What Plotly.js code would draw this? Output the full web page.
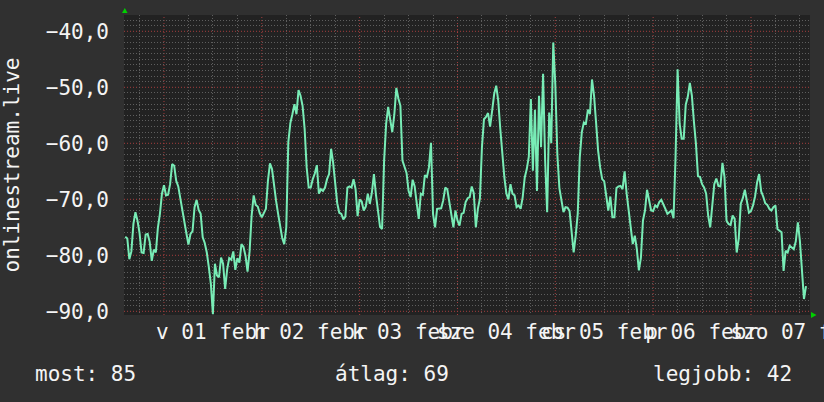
<!DOCTYPE html>
<html>
<head>
<meta charset="utf-8">
<script src="https://cdn.plot.ly/plotly-3.0.1.min.js"></script>
<style>
html,body{margin:0;padding:0;background:#303030;}
#chart{width:824px;height:402px;}
</style>
</head>
<body>
<div id="chart"></div>
<script>
// Sampling: hours relative to 01 Feb 00:00, one sample every 30 minutes
const startHour = -9.5;
const stepHours = 0.5;

// Signal level (onlinestream.live)
const values = [
-76.7,-77.0,-80.7,-79.3,-74.4,-72.3,-73.8,-76.0,-79.5,-79.6,
-76.3,-76.2,-77.6,-81.0,-79.0,-79.5,-75.1,-72.6,-69.0,-67.5,
-69.3,-69.2,-67.3,-63.7,-64.0,-66.7,-67.7,-69.9,-72.3,-74.7,
-76.1,-78.1,-76.2,-75.7,-71.4,-70.1,-71.9,-72.6,-76.8,-77.8,
-79.5,-82.1,-85.1,-90.5,-81.5,-83.6,-83.9,-80.4,-81.5,-86.0,
-82.5,-80.5,-80.8,-79.3,-82.6,-80.5,-81.3,-78.0,-78.5,-80.1,
-82.9,-79.3,-72.9,-69.3,-71.0,-71.3,-72.5,-73.2,-72.4,-71.7,
-66.7,-63.6,-64.6,-68.0,-70.3,-72.6,-74.9,-76.9,-78.0,-75.0,
-59.8,-56.4,-54.8,-53.0,-54.8,-50.5,-51.5,-53.3,-57.4,-64.3,
-67.9,-67.9,-66.4,-65.4,-63.9,-69.0,-68.2,-68.5,-67.9,-66.4,
-65.5,-61.0,-63.5,-67.4,-70.7,-72.4,-72.6,-73.6,-73.1,-67.9,
-67.7,-67.9,-66.4,-68.2,-73.0,-70.0,-70.4,-72.0,-71.3,-69.0,
-70.8,-68.8,-65.5,-69.2,-72.3,-74.9,-75.3,-63.1,-56.5,-53.5,
-55.8,-58.0,-54.9,-50.1,-52.0,-53.3,-63.1,-64.1,-65.3,-68.5,
-69.6,-66.5,-67.7,-70.7,-73.5,-69.0,-69.2,-65.7,-66.0,-64.3,
-59.9,-72.6,-75.0,-71.7,-71.7,-71.6,-70.2,-67.9,-68.2,-70.5,
-72.0,-75.0,-72.0,-73.8,-74.7,-72.6,-72.4,-70.5,-69.8,-69.6,
-67.7,-68.9,-75.0,-71.7,-69.9,-60.7,-55.7,-55.3,-54.6,-57.0,
-54.2,-51.2,-49.7,-52.4,-57.4,-62.7,-66.1,-69.0,-70.0,-67.3,
-69.0,-69.3,-71.4,-71.1,-71.7,-69.6,-66.1,-64.6,-62.4,-52.1,
-64.9,-54.0,-68.5,-51.5,-60.7,-47.6,-63.0,-72.3,-54.5,-60.0,
-42.0,-49.5,-62.0,-68.0,-69.9,-72.3,-71.4,-71.5,-72.1,-76.0,
-79.5,-76.5,-72.6,-62.5,-58.0,-56.3,-56.5,-54.0,-54.8,-48.6,
-51.5,-56.3,-61.3,-64.3,-66.4,-66.8,-69.0,-72.0,-69.5,-73.2,
-73.2,-68.0,-67.7,-67.6,-68.2,-65.0,-69.0,-72.0,-74.1,-78.0,
-76.5,-78.9,-82.7,-80.4,-73.8,-72.0,-68.3,-70.2,-72.0,-72.1,
-71.1,-71.4,-70.5,-70.1,-70.8,-71.7,-72.6,-72.3,-72.0,-73.4,
-62.4,-46.8,-56.5,-59.2,-59.2,-53.1,-51.7,-49.2,-51.5,-56.1,
-60.1,-65.9,-66.0,-67.3,-67.9,-69.0,-72.9,-75.0,-71.3,-67.3,
-66.3,-67.6,-67.7,-63.5,-66.0,-73.8,-74.4,-74.6,-72.9,-73.5,
-79.5,-77.0,-70.8,-69.8,-68.3,-70.8,-72.4,-72.1,-71.1,-69.5,
-67.0,-65.5,-68.6,-69.5,-70.7,-71.0,-71.7,-72.0,-71.4,-71.1,
-75.3,-75.6,-75.9,-82.8,-79.2,-79.5,-78.3,-78.6,-78.9,-77.5,
-74.1,-77.4,-82.0,-87.8,-85.5
];

// Day labels (centred at noon of each day)
const dayLabelHours = [12, 36, 60, 84, 108, 132, 156];
const dayLabels = ["v 01 febr", "h 02 febr", "k 03 febr", "sze 04 febr", "cs 05 febr", "p 06 febr", "szo 07 febr"];

// Y tick values
const yTicks = [-90, -80, -70, -60, -50, -40];

// Summary texts under the chart
const statLabels = ["most:", "átlag:", "legjobb:"];
const statValues = ["85", "69", "42"];

const seriesName = "onlinestream.live";

const hours = values.map((_, i) => startHour + i * stepHours);

const FONT = "DejaVu Sans Mono, monospace";
const TXT = "#f4f4f4";
const RED = "#a63e3e";
const GRAY = "#5e5e5e";
const DOTS = "1px,2px";
const xRange = [-9.81, 158.48];
const yRange = [-90.66, -37.09];

// grid positions: midnights (major) and 6-hour / 1-unit minor lines
const xMajor = [];
for (let h = 0; h <= 156; h += 24) xMajor.push(h);
const xMinor = [];
for (let h = -6; h <= 156; h += 6) if (h % 24 !== 0) xMinor.push(h);
const yMinor = [];
for (let v = -90; v <= -38; v += 1) if (v % 10 !== 0) yMinor.push(v);

const trace = {
  x: hours,
  y: values,
  type: "scatter",
  mode: "lines",
  line: {color: "#78ecb6", width: 2},
  hoverinfo: "skip",
  showlegend: false
};

const statX = [-0.1327, 0.3047, 0.768];
const annotations = statLabels.map((lab, k) => ({
  xref: "paper", yref: "paper",
  x: statX[k], y: -0.197,
  xanchor: "left", yanchor: "middle",
  text: lab + " " + statValues[k],
  showarrow: false,
  font: {family: FONT, size: 21, color: TXT}
}));

const plain = {zeroline: false, showline: false, fixedrange: true, ticks: ""};

// major (red) grid lines as shapes drawn between grid and data
const gridShapes = [];
xMajor.forEach(h => gridShapes.push({
  type: "line", layer: "between", xref: "x", yref: "paper",
  x0: h, x1: h, y0: 0, y1: 1,
  line: {color: RED, width: 1, dash: DOTS}
}));
yTicks.forEach(v => gridShapes.push({
  type: "line", layer: "between", xref: "paper", yref: "y",
  x0: 0, x1: 1, y0: v, y1: v,
  line: {color: RED, width: 1, dash: DOTS}
}));

const layout = {
  width: 824, height: 402,
  margin: {l: 124, r: 14, t: 15, b: 87, pad: 0},
  paper_bgcolor: "#303030",
  plot_bgcolor: "#222222",
  separators: ", ",
  showlegend: false,
  xaxis: Object.assign({
    type: "linear", range: xRange,
    tickmode: "array", tickvals: xMinor,
    showticklabels: false,
    showgrid: true, gridcolor: GRAY, griddash: DOTS, gridwidth: 1
  }, plain),
  xaxis2: Object.assign({
    type: "linear", overlaying: "x", anchor: "y", side: "bottom",
    range: xRange,
    tickmode: "array", tickvals: dayLabelHours, ticktext: dayLabels,
    tickangle: 0, ticklabeloverflow: "allow", ticklabelstandoff: 2,
    tickfont: {family: FONT, size: 21, color: TXT},
    showgrid: false
  }, plain),
  yaxis: Object.assign({
    range: yRange,
    tickmode: "array", tickvals: yTicks,
    tickformat: ".1f", ticklabelstandoff: 14,
    tickfont: {family: FONT, size: 21, color: TXT},
    showgrid: false,
    title: {text: seriesName, font: {family: FONT, size: 21, color: TXT}, standoff: 22}
  }, plain),
  yaxis2: Object.assign({
    range: yRange, overlaying: "y", anchor: "x", side: "left",
    tickmode: "array", tickvals: yMinor, showticklabels: false,
    showgrid: true, gridcolor: GRAY, griddash: DOTS, gridwidth: 1
  }, plain),
  annotations: annotations,
  shapes: gridShapes.concat([
    {type: "path", xref: "paper", yref: "paper",
     path: "M -0.0029 1.0067 L 0.0052 1.0067 L 0.0012 1.0233 Z",
     fillcolor: "#00d000", line: {width: 0}},
    {type: "path", xref: "paper", yref: "paper",
     path: "M 1.0015 0.01 L 1.0015 -0.01 L 1.0095 0 Z",
     fillcolor: "#00d000", line: {width: 0}}
  ])
};

const blank = (xa, ya) => ({x: [], y: [], xaxis: xa, yaxis: ya, type: "scatter", mode: "lines", showlegend: false, hoverinfo: "skip"});

Plotly.newPlot("chart", [blank("x", "y2"), blank("x2", "y"), trace], layout, {staticPlot: true, displayModeBar: false});
</script>
</body>
</html>
